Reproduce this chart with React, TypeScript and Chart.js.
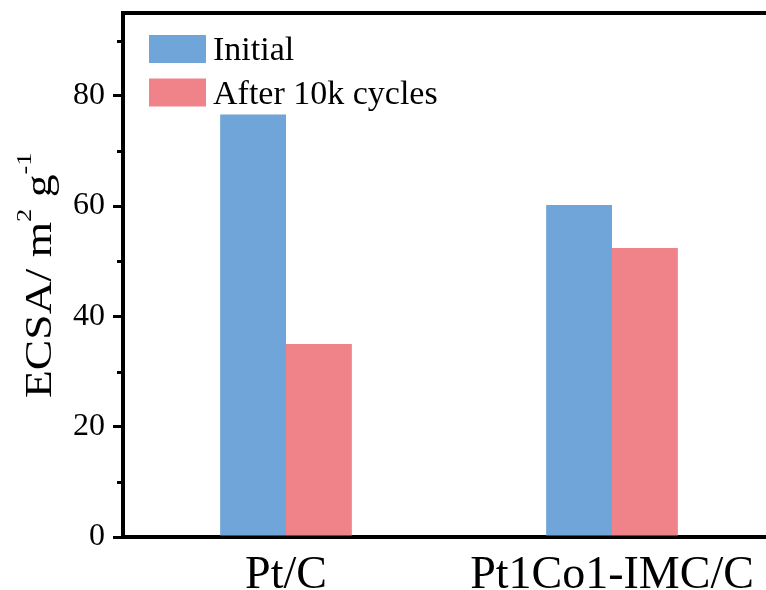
import React, { useEffect, useRef } from 'react';
import { Chart, registerables } from 'chart.js';

Chart.register(...registerables);

const categories = ['Pt/C', 'Pt1Co1-IMC/C'];
const seriesNames = ['Initial', 'After 10k cycles'];
const initialValues = [76.6, 60.2];
const afterValues = [35.0, 52.4];
const seriesColors = ['#6fa5d8', '#f08389'];
const yMajorTicks = [0, 20, 40, 60, 80];
const yMinorTicks = [10, 30, 50, 70, 90];
const yMin = 0;
const yMax = 95;
const yTitleParts = [
  { text: 'ECSA/ m', sup: false },
  { text: '2', sup: true },
  { text: ' g', sup: false },
  { text: '-1', sup: true },
];

const FONT = '"Liberation Serif", "Times New Roman", serif';
const CANVAS_W = 800;
const CANVAS_H = 590;
const PLOT_RIGHT = 775;

const framePlugin = {
  id: 'framePlugin',
  afterDraw(chart: any) {
    const { ctx, chartArea } = chart;
    const y = chart.scales.y;
    ctx.save();
    ctx.strokeStyle = '#000';
    // top frame
    ctx.lineWidth = 4;
    ctx.beginPath();
    ctx.moveTo(chartArea.left - 2, chartArea.top);
    ctx.lineTo(chartArea.right, chartArea.top);
    ctx.stroke();
    // minor ticks
    ctx.lineWidth = 3;
    yMinorTicks.forEach((v) => {
      const py = Math.round(y.getPixelForValue(v)) + 0.5;
      ctx.beginPath();
      ctx.moveTo(chartArea.left - 6, py);
      ctx.lineTo(chartArea.left, py);
      ctx.stroke();
    });
    // y title with superscripts
    const main = 38;
    const sup = 22;
    ctx.translate(51, 398);
    ctx.rotate(-Math.PI / 2);
    ctx.scale(1.2, 1);
    ctx.fillStyle = '#000';
    ctx.textBaseline = 'alphabetic';
    ctx.textAlign = 'left';
    let x = 0;
    yTitleParts.forEach((p) => {
      ctx.font = `${p.sup ? sup : main}px ${FONT}`;
      ctx.fillText(p.text, x, p.sup ? -main * 0.53 : 0);
      x += ctx.measureText(p.text).width;
    });
    ctx.restore();

    // legend inside plot area
    ctx.save();
    const boxX = chartArea.left + 26;
    const boxW = 57;
    const boxH = 28;
    ctx.font = `34px ${FONT}`;
    ctx.textBaseline = 'alphabetic';
    ctx.textAlign = 'left';
    chart.data.datasets.forEach((ds: any, i: number) => {
      const top = chartArea.top + 22 + i * 43.5;
      ctx.fillStyle = ds.backgroundColor;
      ctx.fillRect(boxX, top, boxW, boxH);
      ctx.fillStyle = '#000';
      ctx.fillText(ds.label, boxX + boxW + 7, top + boxH / 2 + 11);
    });
    ctx.restore();
  },
};

export default function App() {
  const ref = useRef<HTMLCanvasElement | null>(null);

  useEffect(() => {
    if (!ref.current) return;
    const chart = new Chart(ref.current, {
      type: 'bar',
      data: {
        labels: categories,
        datasets: [
          {
            label: seriesNames[0],
            data: initialValues,
            backgroundColor: seriesColors[0],
            categoryPercentage: 0.404,
            barPercentage: 1,
          },
          {
            label: seriesNames[1],
            data: afterValues,
            backgroundColor: seriesColors[1],
            categoryPercentage: 0.404,
            barPercentage: 1,
          },
        ],
      },
      options: {
        responsive: false,
        animation: false,
        devicePixelRatio: 1,
        layout: { padding: { top: 13, left: 0, right: CANVAS_W - PLOT_RIGHT, bottom: 0 } },
        plugins: {
          legend: { display: false },
          tooltip: { enabled: false },
          title: { display: false },
        },
        scales: {
          x: {
            offset: true,
            grid: { display: false },
            border: { display: true, color: '#000', width: 4 },
            ticks: {
              color: '#000',
              font: { family: FONT, size: 46 },
              padding: 3,
              maxRotation: 0,
              autoSkip: false,
            },
            afterFit(scale: any) {
              scale.height = CANVAS_H - 537;
              scale.paddingLeft = 0;
              scale.paddingRight = 0;
            },
          },
          y: {
            min: yMin,
            max: yMax,
            grid: {
              display: true,
              drawOnChartArea: false,
              drawTicks: true,
              tickLength: 10,
              lineWidth: 3,
              color: '#000',
            },
            border: { display: true, color: '#000', width: 4 },
            ticks: {
              color: '#000',
              font: { family: FONT, size: 32 },
              padding: 8,
            },
            afterBuildTicks(scale: any) {
              scale.ticks = yMajorTicks.map((v) => ({ value: v }));
            },
            afterFit(scale: any) {
              scale.width = 123;
              scale.paddingTop = 0;
              scale.paddingBottom = 0;
            },
          },
        },
      },
      plugins: [framePlugin],
    });
    return () => chart.destroy();
  }, []);

  return (
    <div
      style={{
        position: 'fixed',
        left: 0,
        top: 0,
        width: 766,
        height: CANVAS_H,
        overflow: 'hidden',
        background: '#fff',
      }}
    >
      <canvas ref={ref} width={CANVAS_W} height={CANVAS_H} style={{ width: CANVAS_W, height: CANVAS_H, display: 'block' }} />
    </div>
  );
}
